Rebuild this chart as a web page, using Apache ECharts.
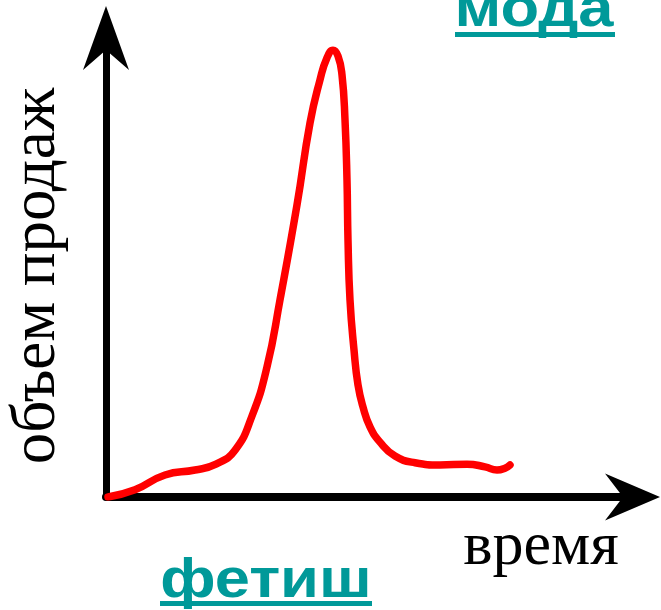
<!DOCTYPE html>
<html>
<head>
<meta charset="utf-8">
<script src="https://cdn.jsdelivr.net/npm/echarts@6/dist/echarts.min.js"></script>
<style>
  html, body { margin: 0; padding: 0; background: #fff; }
  #chart { width: 661px; height: 610px; }
</style>
</head>
<body>
<div id="chart"></div>
<script>
// Sales curve of a fad: slow start, sharp spike, quick fall to a low plateau
const timePoints = [0.4, 5.8, 11.8, 17.8, 22.0, 25.8, 29.2, 32.2, 34.8, 38.2, 40.8, 42.8, 44.2, 45.4, 46.4, 47.2, 47.8, 48.2, 48.4, 48.8, 49.6, 50.4, 51.4, 52.8, 54.8, 57.8, 61.8, 66.8, 72.2, 75.8, 78.2, 79.8, 80.8];
const salesVolume = [0.0, 1.6, 4.9, 6.0, 7.3, 10.4, 18.0, 28.9, 43.8, 64.9, 83.1, 92.7, 97.6, 99.3, 98.0, 93.8, 83.8, 70.4, 57.1, 43.8, 32.7, 24.9, 20.0, 15.6, 12.2, 9.1, 7.6, 7.1, 7.3, 6.7, 6.0, 6.4, 7.1];

const xAxisName = 'время';
const yAxisName = 'объем продаж';
const topLabel = 'мода';
const bottomLabel = 'фетиш';

const teal = '#009999';
// notched arrowheads, drawn tip-up and turned by the axis
const yArrow = 'path://M23,0 L46,64 L23,44 L0,64 Z';
const xArrow = 'path://M23.5,0 L47,55 L23.5,37 L0,55 Z';

const chart = echarts.init(document.getElementById('chart'), null, { renderer: 'canvas' });

chart.setOption({
  animation: false,
  backgroundColor: '#ffffff',
  grid: { left: 106, right: 35, top: 47, bottom: 113, containLabel: false },
  xAxis: {
    type: 'value', min: 0, max: 104,
    axisLine: {
      show: true, onZero: true,
      lineStyle: { color: '#000', width: 8 },
      symbol: ['none', xArrow], symbolSize: [47, 55], symbolOffset: [0, 6.5]
    },
    axisTick: { show: false }, axisLabel: { show: false }, splitLine: { show: false }
  },
  yAxis: {
    type: 'value', min: 0, max: 100,
    axisLine: {
      show: true,
      lineStyle: { color: '#000', width: 7 },
      symbol: ['none', yArrow], symbolSize: [46, 64], symbolOffset: [0, 9]
    },
    axisTick: { show: false }, axisLabel: { show: false }, splitLine: { show: false }
  },
  series: [{
    type: 'line',
    data: timePoints.map((t, i) => [t, salesVolume[i]]),
    smooth: 0.5,
    showSymbol: false,
    lineStyle: { color: '#ff0000', width: 7.5, cap: 'round', join: 'round' },
    z: 5
  }],
  graphic: [
    {
      type: 'text', rotation: Math.PI / 2, x: 37, y: 276,
      style: { text: yAxisName, font: '63px "Liberation Serif"', fill: '#000', align: 'center', verticalAlign: 'middle' }
    },
    {
      type: 'text', x: 541, y: 548,
      style: { text: xAxisName, font: '62px "Liberation Serif"', fill: '#000', align: 'center', verticalAlign: 'middle' }
    },
    {
      type: 'text', x: 534, y: 11, scaleX: 1.15,
      style: { text: topLabel, font: 'bold 55px "Liberation Sans"', fill: teal, align: 'center', verticalAlign: 'middle' }
    },
    { type: 'rect', shape: { x: 455, y: 32, width: 160, height: 5 }, style: { fill: teal } },
    {
      type: 'text', x: 266, y: 582, scaleX: 1.15,
      style: { text: bottomLabel, font: 'bold 55px "Liberation Sans"', fill: teal, align: 'center', verticalAlign: 'middle' }
    },
    { type: 'rect', shape: { x: 160, y: 601, width: 212, height: 5 }, style: { fill: teal } }
  ]
});
</script>
</body>
</html>
